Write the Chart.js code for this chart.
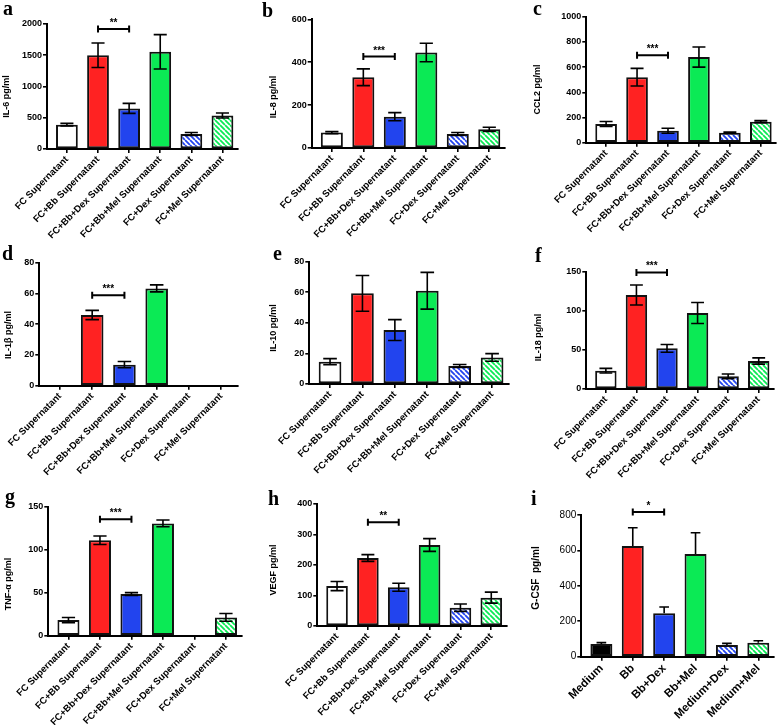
<!DOCTYPE html>
<html><head><meta charset="utf-8">
<script src="https://cdn.jsdelivr.net/npm/chart.js@4.4.1/dist/chart.umd.min.js"></script>
<style>
html,body{margin:0;padding:0;background:#fff;}
#wrap{position:relative;width:778px;height:725px;overflow:hidden;background:#fff;}
.p{position:absolute;}
.p canvas{display:block;}
</style></head><body><div id="wrap"></div>
<script>
// ---------- data ----------
const groupsFC = ["FC Supernatant","FC+Bb Supernatant","FC+Bb+Dex Supernatant","FC+Bb+Mel Supernatant","FC+Dex Supernatant","FC+Mel Supernatant"];
const groupsMedium = ["Medium","Bb","Bb+Dex","Bb+Mel","Medium+Dex","Medium+Mel"];

const il6    = [390, 1500, 650, 1555, 240, 535];
const il6Err = [20, 195, 80, 275, 25, 40];
const il8    = [72, 330, 146, 445, 65, 87];
const il8Err = [5, 39, 19, 43, 7, 10];
const ccl2    = [148, 520, 95, 680, 79, 167];
const ccl2Err = [20, 70, 20, 80, 5, 8];
const il1b    = [0, 46, 13.7, 63.3, 0, 0];
const il1bErr = [0, 3, 2, 2.3, 0, 0];
const il10    = [14.6, 59.3, 35.3, 61, 11.8, 17.4];
const il10Err = [2, 11.7, 6.8, 12, 1, 2.5];
const il18    = [23.4, 120.2, 52, 97.2, 16.2, 35.8];
const il18Err = [3, 12.8, 5, 13.5, 3, 4];
const tnfa    = [18.2, 111, 48.4, 130.6, 0, 21.3];
const tnfaErr = [3, 5, 1.7, 4, 0, 4.5];
const vegf    = [131, 223, 127, 265.6, 60, 93];
const vegfErr = [15, 11, 13, 21, 12, 18];
const gcsf    = [71.5, 625, 245, 580, 66, 79];
const gcsfErr = [8, 103, 36, 120, 9, 11];

const yMax  = [2000, 600, 1000, 80, 80, 150, 150, 400, 800];
const yStep = [500, 200, 200, 20, 20, 50, 50, 100, 200];
const yTitles = ["IL-6 pg/ml","IL-8 pg/ml","CCL2 pg/ml","IL-1\u03b2 pg/ml","IL-10 pg/ml","IL-18 pg/ml","TNF-\u03b1 pg/ml","VEGF pg/ml","G-CSF  pg/ml"];
const letters = ["a","b","c","d","e","f","g","h","i"];
const sigMarks = ["**","***","***","***","","***","***","**","*"];
const sigY     = [1920, 426, 695, 58.8, 0, 149, 135.3, 340, 817];

// ---------- layout (pixels) ----------
const colX = [0, 260, 518], colW = [260, 258, 260];
const rowY = [0, 240, 480], rowH = [240, 240, 245];
// chart area: left, top, right, bottom (page px)
const areas = [
  [47, 24, 238, 149], [311.7, 19.3, 505, 148], [586.3, 16.7, 776.3, 142.7],
  [39.3, 262.7, 237.3, 385.7], [309.3, 261.7, 508.3, 384], [586.3, 271.7, 774, 389],
  [48.3, 506.7, 241.7, 635.7], [317.3, 504, 506.7, 626], [581.3, 515, 774, 656.7]
];
const letterPos = [[3,15],[262,17],[533,15],[2,260],[273,260],[535,262],[5,503],[268,505],[531,505]];
const titlePos = [[6.3,96.5],[273.3,97],[538,89.5],[8.7,335],[273.3,328],[538.3,337.5],[8.3,584],[273.3,570],[536,578]];
const Y_W = 30, GAP = 0.14;

const RED = '#ff2222', BLUE = '#2244ee', GREEN = '#0bea55';
function hatch(color){
  const c = document.createElement('canvas'); c.width = 5; c.height = 5;
  const x = c.getContext('2d');
  x.fillStyle = '#fff'; x.fillRect(0,0,5,5);
  x.strokeStyle = color; x.lineWidth = 1.8;
  x.beginPath();
  for (const o of [-5,0,5]) { x.moveTo(o,0); x.lineTo(o+5,5); }
  x.stroke();
  return x.createPattern(c, 'repeat');
}

Chart.defaults.font.family = "'Liberation Sans', Arial, Helvetica, sans-serif";
Chart.defaults.color = '#000';
Chart.defaults.animation = false;

const figPlugin = {
  id: 'fig',
  afterDatasetsDraw(chart, args, o) {
    const ctx = chart.ctx, xs = chart.scales.x, ys = chart.scales.y;
    const meta = chart.getDatasetMeta(0);
    ctx.save();
    ctx.strokeStyle = '#000'; ctx.lineWidth = o.errLine;
    meta.data.forEach((bar, i) => {
      const v = o.values[i], e = o.errors[i];
      if (!e) return;
      const half = bar.width * o.capFrac;
      const yt = ys.getPixelForValue(v + e);
      const yb = ys.getPixelForValue(o.upperOnly ? v : v - e);
      ctx.beginPath();
      ctx.moveTo(bar.x, yt); ctx.lineTo(bar.x, yb);
      ctx.moveTo(bar.x - half, yt); ctx.lineTo(bar.x + half, yt);
      if (!o.upperOnly) { ctx.moveTo(bar.x - half, yb); ctx.lineTo(bar.x + half, yb); }
      ctx.stroke();
    });
    if (o.sig) {
      const x1 = xs.getPixelForValue(1), x2 = xs.getPixelForValue(2), y = ys.getPixelForValue(o.sigY);
      ctx.lineWidth = 2;
      ctx.beginPath();
      ctx.moveTo(x1, y); ctx.lineTo(x2, y);
      ctx.moveTo(x1, y - 3.5); ctx.lineTo(x1, y + 3.5);
      ctx.moveTo(x2, y - 3.5); ctx.lineTo(x2, y + 3.5);
      ctx.stroke();
      ctx.fillStyle = '#000';
      ctx.font = "bold 10px 'Liberation Sans', Arial, sans-serif";
      ctx.textAlign = 'center'; ctx.textBaseline = 'alphabetic';
      ctx.fillText(o.sig, (x1 + x2) / 2, y - 3);
    }
    ctx.restore();
  },
  afterDraw(chart, args, o) {
    const ctx = chart.ctx;
    ctx.save(); ctx.fillStyle = '#000';
    ctx.font = "bold 20px 'Liberation Serif', 'Times New Roman', serif";
    ctx.textAlign = 'left'; ctx.textBaseline = 'alphabetic';
    ctx.fillText(o.letter, o.letterX, o.letterY);
    ctx.translate(o.titleX, o.titleY); ctx.rotate(-Math.PI / 2);
    ctx.font = o.titleFont; ctx.textAlign = 'center'; ctx.textBaseline = 'middle';
    ctx.fillText(o.title, 0, 0);
    ctx.restore();
  }
};

const seriesVals = [il6, il8, ccl2, il1b, il10, il18, tnfa, vegf, gcsf];
const seriesErrs = [il6Err, il8Err, ccl2Err, il1bErr, il10Err, il18Err, tnfaErr, vegfErr, gcsfErr];

const wrap = document.getElementById('wrap');
for (let k = 0; k < 9; k++) {
  const col = k % 3, row = Math.floor(k / 3);
  const cl = colX[col], ct = rowY[row], cw = colW[col], ch = rowH[row];
  const [L, T, R, B] = areas[k];
  const isI = k === 8;
  const cats = isI ? groupsMedium : groupsFC;
  const vals = seriesVals[k], errs = seriesErrs[k];
  const div = document.createElement('div');
  div.className = 'p';
  div.style.cssText = `left:${cl}px;top:${ct}px;width:${cw}px;height:${ch}px;`;
  const cv = document.createElement('canvas');
  div.appendChild(cv); wrap.appendChild(div);
  const xH = ch - (B - ct);
  const fills = [isI ? '#000000' : '#ffffff', RED, BLUE, GREEN, hatch(BLUE), hatch(GREEN)];
  new Chart(cv, {
    type: 'bar',
    data: {
      datasets: [{
        data: vals.map((v, i) => ({x: i, y: v})),
        backgroundColor: fills,
        borderColor: '#111',
        borderWidth: 2,
        borderSkipped: false,
        barPercentage: 0.7,
        categoryPercentage: 1.0
      }]
    },
    options: {
      responsive: true, maintainAspectRatio: false, animation: false,
      layout: { padding: { left: L - cl - Y_W, top: T - ct, right: cl + cw - R, bottom: 0 } },
      plugins: {
        legend: { display: false }, tooltip: { enabled: false },
        fig: {
          values: vals, errors: errs, capFrac: isI ? 0.22 : 0.3, upperOnly: isI, errLine: 1.6,
          sig: sigMarks[k], sigY: sigY[k],
          letter: letters[k], letterX: letterPos[k][0] - cl, letterY: letterPos[k][1] - ct,
          title: yTitles[k], titleX: titlePos[k][0] - cl, titleY: titlePos[k][1] - ct,
          titleFont: isI ? "bold 10px 'Liberation Sans', Arial, sans-serif" : "bold 9px 'Liberation Sans', Arial, sans-serif"
        }
      },
      scales: {
        x: {
          type: 'linear', offset: false, bounds: 'data',
          min: -0.5 - GAP, max: cats.length - 0.5,
          afterBuildTicks: s => { s.ticks = cats.map((_, i) => ({ value: i })); },
          afterFit: s => { s.height = xH; s.paddingLeft = 0; s.paddingRight = 0; },
          grid: { offset: false, drawOnChartArea: false, drawTicks: true, tickLength: 4, color: '#000', lineWidth: 1.6 },
          border: { display: true, color: '#000', width: 2 },
          ticks: {
            autoSkip: false, minRotation: 45, maxRotation: 45, padding: 1, color: '#000',
            font: { size: isI ? 11.5 : 9.5, weight: 'bold' },
            callback: v => cats[v]
          }
        },
        y: {
          min: 0, max: yMax[k],
          afterFit: s => { s.width = Y_W; s.paddingTop = 0; s.paddingBottom = 0; },
          grid: { drawOnChartArea: false, drawTicks: true, tickLength: 4, color: '#000', lineWidth: 1.6 },
          border: { display: true, color: '#000', width: 2 },
          ticks: { stepSize: yStep[k], padding: 1, color: '#000', font: { size: isI ? 10 : 9, weight: isI ? 'normal' : 'bold' },
            callback: v => String(v) }
        }
      }
    },
    plugins: [figPlugin]
  });
}
</script>
</body></html>
